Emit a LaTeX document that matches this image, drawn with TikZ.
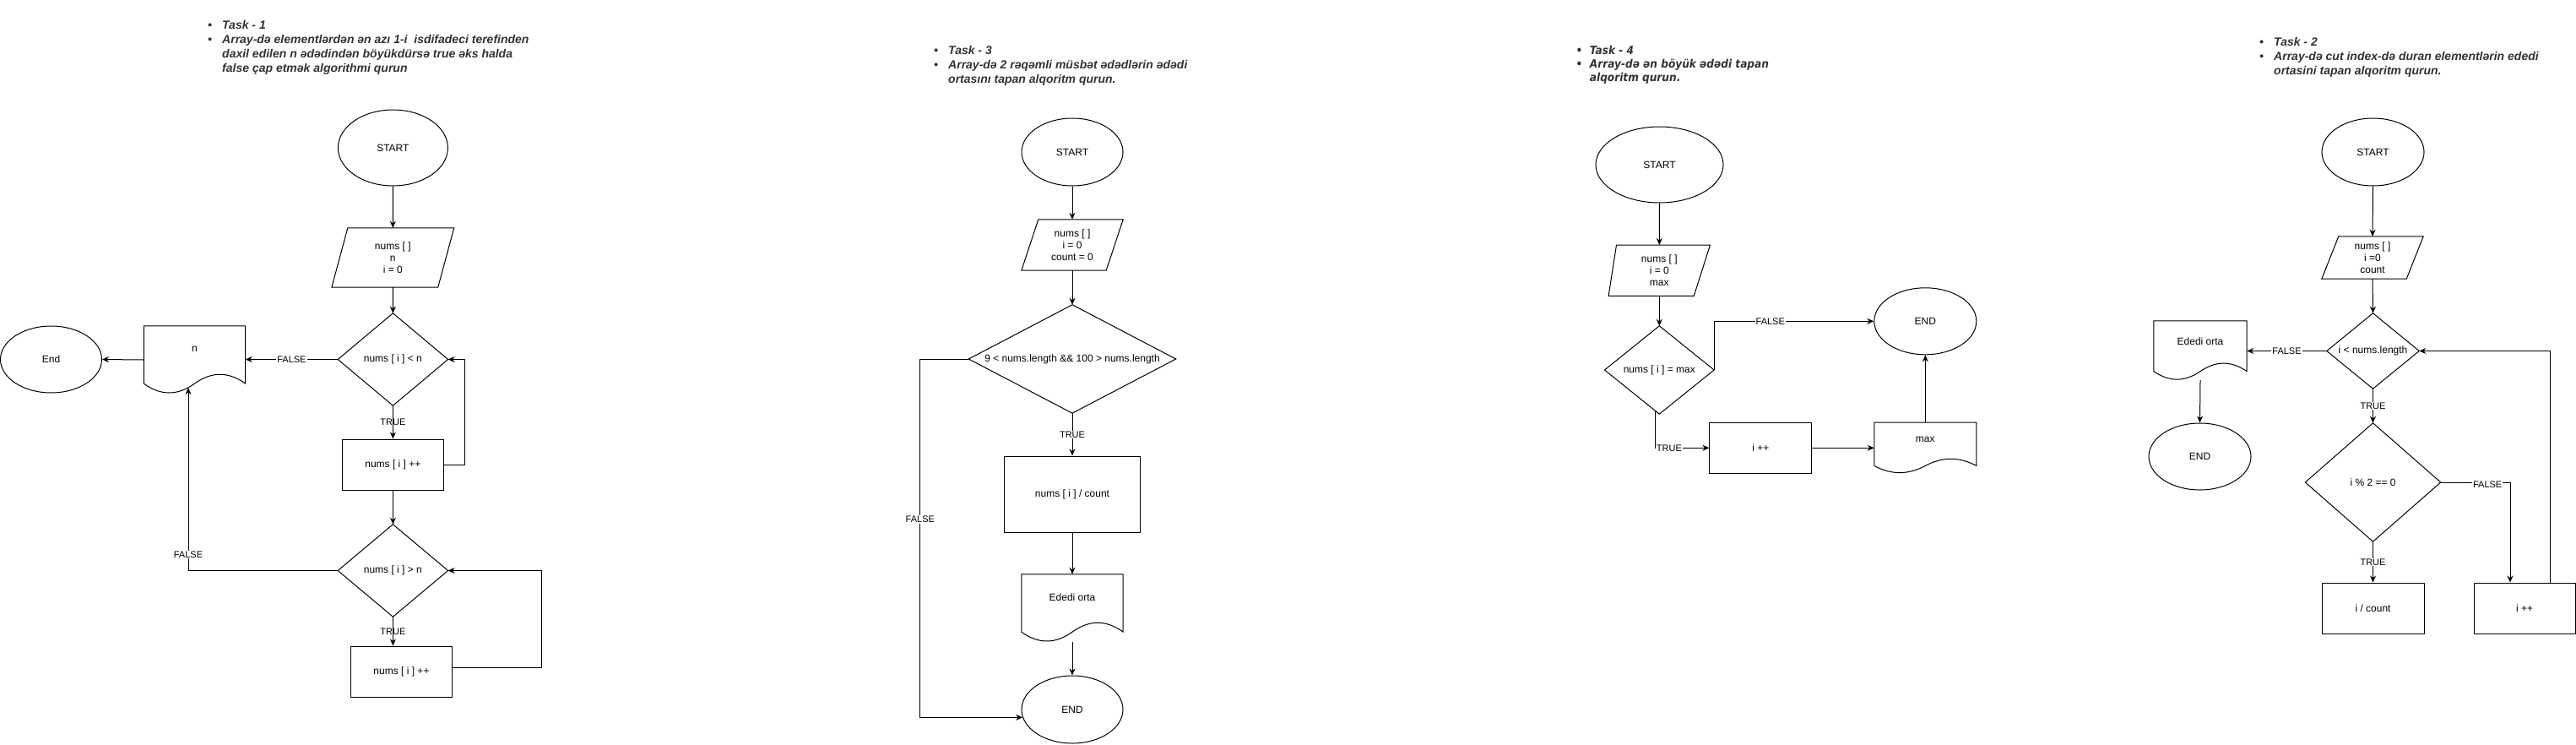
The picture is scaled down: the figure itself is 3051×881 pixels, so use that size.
\documentclass[tikz,border=0pt]{standalone}
\usepackage{fontspec}
\setmainfont{Liberation Sans}
\newfontfamily\dejafont{DejaVu Sans Condensed}
\usetikzlibrary{shapes.geometric,arrows.meta,calc}
\definecolor{titlegray}{HTML}{333333}
\newcommand\doctext[2]{\raisebox{#1}[\height][\depth]{#2}}
\newcommand\parashape[3]{\draw[shapeline] ([xshift=#2pt]#1.north west) -- (#1.north east) -- ([xshift=-#3pt]#1.south east) -- (#1.south west) -- cycle;}
\newcommand\diashape[1]{\draw[shapeline] (#1.north) -- (#1.east) -- (#1.south) -- (#1.west) -- cycle;}
\newcommand\docshape[1]{%
  \draw[shapeline] let \p1=(#1.north west), \p2=(#1.south east), \n1={0.3*(\y1-\y2)}, \n2={\x2-\x1} in
  (\x1,\y1) -- (\x2,\y1) -- (\x2,{\y2+0.5*\n1})
  .. controls ({\x2-\n2/6},{\y2+1.1*\n1}) and ({\x1+2*\n2/3},{\y2+1.1*\n1}) .. ({\x1+0.5*\n2},{\y2+0.5*\n1})
  .. controls ({\x1+\n2/3},{\y2-0.1*\n1}) and ({\x1+\n2/6},{\y2-0.1*\n1}) .. (\x1,{\y2+0.5*\n1}) -- cycle;}
\tikzset{
  every node/.style={font=\fontsize{12}{14}\selectfont, inner sep=0pt},
  shapeline/.style={draw=black, line width=1pt},
  term/.style={ellipse, draw=black, line width=1pt},
  proc/.style={rectangle, draw=black, line width=1pt},
  sbox/.style={rectangle, align=center},
  arr/.style={-{Stealth[length=8pt,width=7pt]}, line width=1pt},
  lbl/.style={font=\fontsize{11}{13}\selectfont, fill=white, inner sep=1pt},
  lblnf/.style={font=\fontsize{11}{13}\selectfont, inner sep=1pt},
  titlenode/.style={anchor=base west, text=titlegray, font=\fontsize{14}{17}\selectfont\bfseries\itshape},
}
\begin{document}
\begin{tikzpicture}[x=1pt,y=-1pt]
\fill[white] (0,0) rectangle (3051,881);
\useasboundingbox (0,0) rectangle (3051,881);

% ---------------- Titles ----------------
\node[titlenode] (t1) at (246,34) {\begin{tabular}[t]{@{}l@{}l@{}}
\makebox[17pt][l]{•} & Task - 1\\
\makebox[17pt][l]{•} & Array-də elementlərdən ən azı 1-i\ \ isdifadeci terefinden\\
 & daxil edilen n ədədindən böyükdürsə true əks halda\\
 & false çap etmək algorithmi qurun
\end{tabular}};
\node[titlenode] (t3) at (1106,64) {\begin{tabular}[t]{@{}l@{}l@{}}
\makebox[17pt][l]{•} & Task - 3\\
\makebox[17pt][l]{•} & Array-də 2 rəqəmli müsbət ədədlərin ədədi\\
 & ortasını tapan alqoritm qurun.
\end{tabular}};
\node[titlenode, font=\dejafont\fontsize{13.5}{16.3}\selectfont\bfseries\itshape] (t4) at (1866.5,64) {\begin{tabular}[t]{@{}l@{}l@{}}
\makebox[16.2pt][l]{•} & Task - 4\\
\makebox[16.2pt][l]{•} & Array-də ən böyük ədədi tapan\\
 & alqoritm qurun.
\end{tabular}};
\node[titlenode] (t2) at (2676,54) {\begin{tabular}[t]{@{}l@{}l@{}}
\makebox[17pt][l]{•} & Task - 2\\
\makebox[17pt][l]{•} & Array-də cut index-də duran elementlərin ededi\\
 & ortasini tapan alqoritm qurun.
\end{tabular}};

% ---------------- Task 1 ----------------
\node[term, minimum width=130pt, minimum height=90pt] (s1) at (465.4,175) {START};
\node[sbox, minimum width=144.5pt, minimum height=70pt] (p1) at (465.3,305) {nums [ ]\\n\\i = 0};
\parashape{p1}{19}{19}
\node[sbox, minimum width=130pt, minimum height=109pt] (c1) at (465.4,425.5) {nums [ i ] < n};
\diashape{c1}
\node[sbox, minimum width=120pt, minimum height=80pt] (d1) at (230.5,426) {\doctext{13pt}{n}};
\docshape{d1}
\node[term, minimum width=120pt, minimum height=79pt] (e1) at (60.5,425.5) {End};
\node[proc, minimum width=120pt, minimum height=60pt] (r1) at (465.4,550) {nums [ i ] ++};
\node[sbox, minimum width=130pt, minimum height=109pt] (c2) at (465.4,675.5) {nums [ i ] > n};
\diashape{c2}
\node[proc, minimum width=120pt, minimum height=60pt] (r2) at (475.5,795) {nums [ i ] ++};
\coordinate (d1in) at (223,459);

\draw[arr] (s1.south) -- (p1.north);
\draw[arr] (p1.south) -- (c1.north);
\draw[arr] (c1.west) -- node[lbl]{FALSE} (c1.west -| d1.east);
\draw[arr] (d1.west) -- (e1.east);
\draw[arr] (c1.south) -- node[lblnf]{TRUE} (r1.north);
\draw[arr] (r1.east) -- ++(24.6,0) |- (c1.east);
\draw[arr] (r1.south) -- (c2.north);
\draw[arr] (c2.west) -| node[lbl,pos=0.544]{FALSE} (d1in);
\draw[arr] (c2.south) -- node[lblnf]{TRUE} (c2.south |- r2.north);
\draw[arr] ([yshift=5pt]r2.east) -- ++(105.3,0) |- (c2.east);

% ---------------- Task 3 ----------------
\node[term, minimum width=120pt, minimum height=80pt] (s3) at (1270,180) {START};
\node[sbox, minimum width=120pt, minimum height=60pt] (p3) at (1270,290) {nums [ ]\\i = 0\\count = 0};
\parashape{p3}{20}{20}
\node[sbox, minimum width=245pt, minimum height=128pt] (c3) at (1270,425) {9 < nums.length \&\& 100 > nums.length};
\diashape{c3}
\node[proc, minimum width=161pt, minimum height=90pt] (r3) at (1270,585) {nums [ i ] / count};
\node[sbox, minimum width=120pt, minimum height=80pt] (d3) at (1270,720) {\doctext{13pt}{Ededi orta}};
\docshape{d3}
\node[term, minimum width=120pt, minimum height=80pt] (e3) at (1270,840) {END};

\draw[arr] (s3.south) -- (p3.north);
\draw[arr] (p3.south) -- (c3.north);
\draw[arr] (c3.south) -- node[lbl]{TRUE} (r3.north);
\draw[arr] (r3.south) -- (d3.north);
\draw[arr] (d3.south) -- (e3.north);
\draw[arr] (c3.west) -- ++(-57.5,0) |- node[lbl,pos=0.224]{FALSE} (e3.189);

% ---------------- Task 4 ----------------
\node[term, minimum width=151pt, minimum height=90pt] (s4) at (1965.5,195) {START};
\node[sbox, minimum width=120pt, minimum height=60pt] (p4) at (1965.3,320.2) {nums [ ]\\i = 0\\max};
\parashape{p4}{9.4}{19.3}
\node[sbox, minimum width=129.3pt, minimum height=104pt] (c4) at (1965.3,438) {nums [ i ] = max};
\diashape{c4}
\node[term, minimum width=121pt, minimum height=79pt] (e4) at (2280.3,380.3) {END};
\node[proc, minimum width=120.7pt, minimum height=60pt] (r4) at (2085.3,530.3) {i ++};
\node[sbox, minimum width=120.7pt, minimum height=60pt] (d4) at (2280.3,530.3) {\doctext{9.7pt}{max}};
\docshape{d4}
\coordinate (c4out) at ($(c4.south)!0.077!(c4.west)$);

\draw[arr] (s4.south) -- (p4.north);
\draw[arr] (p4.south) -- (c4.north);
\draw[arr] (c4.east) |- node[lbl,pos=0.676]{FALSE} (e4.west);
\draw[arr] (c4out) |- node[lbl,pos=0.629]{TRUE} (r4.west);
\draw[arr] (r4.east) -- (d4.west);
\draw[arr] (d4.north) -- (e4.south);

% ---------------- Task 2 ----------------
\node[term, minimum width=121pt, minimum height=80pt] (s2) at (2810.5,180) {START};
\node[sbox, minimum width=120pt, minimum height=50pt] (p2) at (2810,305) {nums [ ]\\i =0\\count};
\parashape{p2}{20}{20}
\node[sbox, minimum width=109pt, minimum height=89pt] (c5) at (2810.5,415.5) {i < nums.length};
\diashape{c5}
\node[sbox, minimum width=110pt, minimum height=70pt] (d5) at (2606,415) {\doctext{11pt}{Ededi orta}};
\docshape{d5}
\node[term, minimum width=121pt, minimum height=79pt] (e5) at (2605.5,540.5) {END};
\node[sbox, minimum width=160pt, minimum height=140pt] (c6) at (2810.5,571) {i \% 2 == 0};
\diashape{c6}
\node[proc, minimum width=121pt, minimum height=60pt] (r5) at (2810.5,720) {i / count};
\node[proc, minimum width=120pt, minimum height=60pt] (r6) at (2990,720) {i ++};

\draw[arr] (s2.south) -- (p2.north);
\draw[arr] (p2.south) -- (c5.north);
\draw[arr] (c5.west) -- node[lbl]{FALSE} (c5.west -| d5.east);
\draw[arr] (d5.south) -- (e5.north);
\draw[arr] (c5.south) -- node[lbl]{TRUE} (c6.north);
\draw[arr] (c6.south) -- node[lbl]{TRUE} (r5.north);
\draw[arr] (c6.east) -| node[lbl,pos=0.337,yshift=-3pt]{FALSE} ([xshift=-17pt]r6.north);
\draw[arr] ([xshift=30pt]r6.north) |- (c5.east);
\end{tikzpicture}
\end{document}
